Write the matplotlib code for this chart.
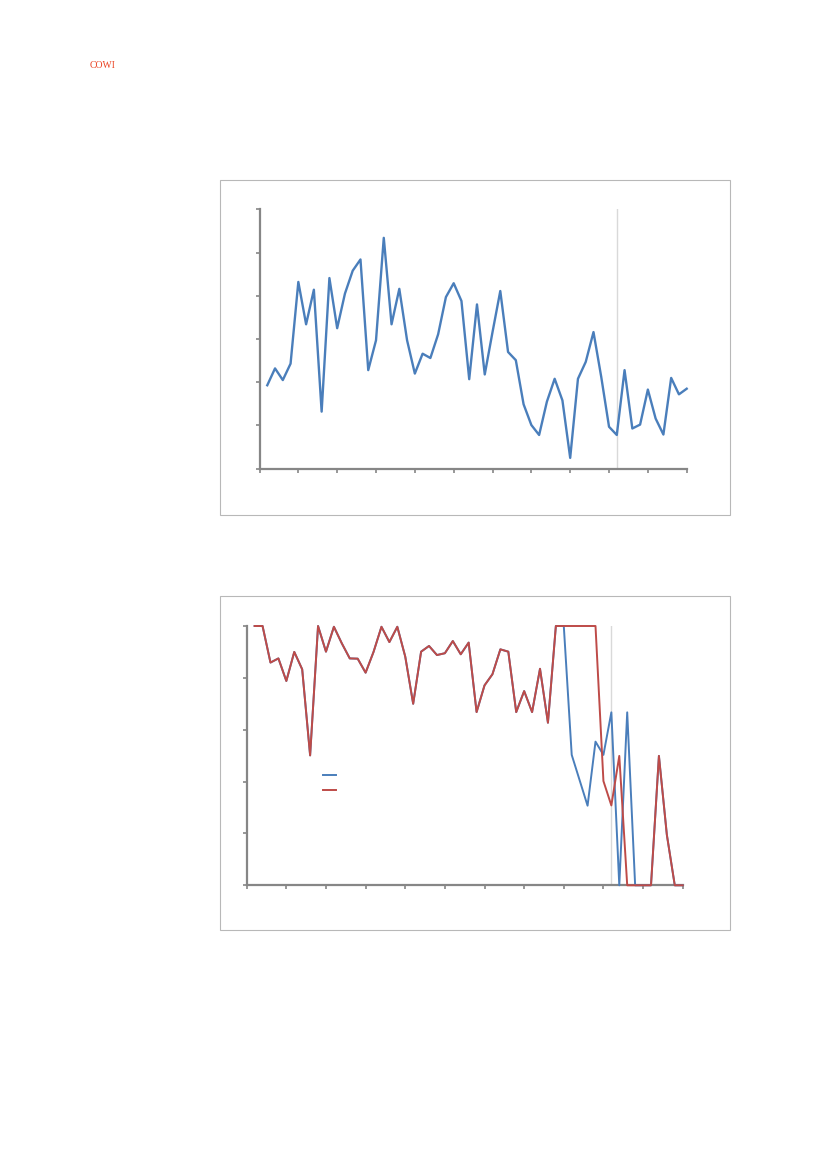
import numpy as np
import matplotlib
matplotlib.use('Agg')
import matplotlib.pyplot as plt
from matplotlib.patches import Rectangle
from matplotlib.lines import Line2D

# ---- data ----
periods = np.arange(1, 56)

top_series = [1.93, 2.32, 2.05, 2.43, 4.32, 3.34, 4.14, 1.32, 4.41, 3.25,
              4.05, 4.58, 4.84, 2.28, 2.97, 5.34, 3.34, 4.16, 2.97, 2.20,
              2.66, 2.56, 3.11, 3.97, 4.29, 3.88, 2.07, 3.80, 2.18, 3.16,
              4.11, 2.70, 2.51, 1.49, 1.01, 0.78, 1.55, 2.08, 1.58, 0.25,
              2.08, 2.47, 3.16, 2.12, 0.97, 0.78, 2.28, 0.93, 1.02, 1.83,
              1.16, 0.79, 2.10, 1.72, 1.85]

red_series = [100, 100, 85.9, 87.5, 78.8, 90.0, 83.3, 50.1, 100, 90.1,
              99.7, 93.3, 87.5, 87.4, 82.0, 90.0, 99.7, 93.8, 99.7, 88.2,
              70.0, 90.1, 92.3, 88.8, 89.5, 94.2, 89.1, 93.6, 66.8, 77.1,
              81.4, 91.0, 90.1, 66.8, 74.9, 66.8, 83.5, 62.7, 100, 100,
              100, 100, 100, 100, 40.2, 30.8, 49.9, 0, 0, 0,
              0, 49.9, 19.5, 0, 0]

blue_series = red_series[:40] + [50.3, 40.5, 30.7, 55.4, 50.3, 66.7, 0, 66.7, 0,
                                 0, 0, 49.9, 19.5, 0, 0]

marker_period = 46

BLUE = '#4a7ebb'
RED = '#be4b48'
AXIS_GREY = '#868686'

fig = plt.figure(figsize=(8.27, 11.69), dpi=100)

# logo text
fig.text(90 / 827, 1 - 66 / 1169, 'COWI', color='#ea4424', fontsize=7,
         family='Liberation Serif', va='center', ha='left')

# chart frames
for (x0, y0, x1, y1) in [(220, 180, 730, 515), (220, 596, 730, 930)]:
    fig.patches.append(Rectangle((x0 / 827, 1 - y1 / 1169), (x1 - x0) / 827,
                                 (y1 - y0) / 1169, transform=fig.transFigure,
                                 fill=False, edgecolor='#b8b8b8', lw=0.8))


def style_axes(ax, ymax, ystep):
    ax.set_xlim(0, 55)
    ax.set_ylim(0, ymax)
    ax.set_xticks(np.arange(0, 56, 5))
    ax.set_yticks(np.arange(0, ymax + ystep / 2, ystep))
    ax.set_xticklabels([])
    ax.set_yticklabels([])
    for s in ['top', 'right']:
        ax.spines[s].set_visible(False)
    for s in ['left', 'bottom']:
        ax.spines[s].set_color(AXIS_GREY)
        ax.spines[s].set_linewidth(1.6)
    ax.tick_params(direction='out', length=3, width=1.2, color=AXIS_GREY)
    ax.axvline(marker_period, color='#d9d9d9', lw=1.0, zorder=1)


# top chart
ax1 = fig.add_axes([259.5 / 827, 1 - 468.7 / 1169, 427.2 / 827, 259.4 / 1169])
style_axes(ax1, 6, 1)
ax1.plot(periods, top_series, color=BLUE, lw=1.7, clip_on=False, zorder=3)

# bottom chart
ax2 = fig.add_axes([246.7 / 827, 1 - 885.3 / 1169, 436 / 827, 259.3 / 1169])
style_axes(ax2, 100, 20)
ax2.plot(periods, blue_series, color=BLUE, lw=1.4, clip_on=False, zorder=3)
ax2.plot(periods, red_series, color=RED, lw=1.4, clip_on=False, zorder=4)

handles = [Line2D([], [], color=BLUE, lw=1.4), Line2D([], [], color=RED, lw=1.4)]
ax2.legend(handles, ['', ''], loc='upper left', frameon=False,
           bbox_to_anchor=(0.152, 0.48), handlelength=1.2, handletextpad=0,
           labelspacing=0.45, fontsize=8)

fig.savefig('out.png', dpi=100)
